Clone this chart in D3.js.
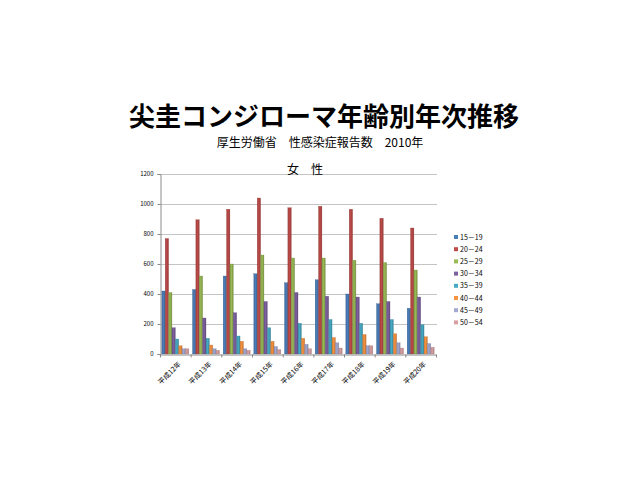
<!doctype html>
<html lang="ja">
  <head>
    <meta charset="utf-8">
    <script src="https://cdn.jsdelivr.net/npm/d3@7/dist/d3.min.js"></script>
    <style>
      body {margin:0; background:#fff}
      svg {display:block}
      text {font-family:"Noto Sans CJK JP", "Noto Sans", sans-serif}
      .grid line {stroke:#c4c4c4}
      .axis path, .axis line {stroke:#8a8a8a}
    </style>
    <title>尖圭コンジローマ年齢別年次推移</title>
  </head>
  <body>
    <script>
      // 報告数 (女性)
      const years = ["平成12年","平成13年","平成14年","平成15年","平成16年","平成17年","平成18年","平成19年","平成20年"];
      const ageGroups = ["15－19","20－24","25－29","30－34","35－39","40－44","45－49","50－54"];
      const age15_19 = [420, 430, 520, 535, 475, 495, 400, 335, 305];
      const age20_24 = [770, 895, 965, 1040, 975, 985, 965, 905, 840];
      const age25_29 = [410, 520, 600, 660, 640, 640, 625, 610, 560];
      const age30_34 = [175, 240, 275, 350, 410, 385, 380, 350, 380];
      const age35_39 = [100, 105, 120, 175, 205, 230, 205, 230, 195];
      const age40_44 = [55, 60, 85, 85, 105, 110, 130, 135, 115];
      const age45_49 = [35, 35, 35, 50, 65, 75, 55, 75, 70];
      const age50_54 = [35, 25, 25, 30, 35, 40, 55, 40, 45];
      const yTicks = [0, 200, 400, 600, 800, 1000, 1200];
      const colors = ["#4a7ebb","#be4b48","#98b954","#7d60a0","#46aac5","#f69240","#a3a9d2","#d9a0a3"];

      const series = [age15_19, age20_24, age25_29, age30_34, age35_39, age40_44, age45_49, age50_54];

      let w = 640, h = 480;
      let plot = {left:160, right:436, top:174, bottom:354};

      let svg = d3.select("body").append("svg")
        .attr("width", w)
        .attr("height", h);

      // bar gradients
      let defs = svg.append("defs");
      colors.forEach((c, i) => {
        let g = defs.append("linearGradient").attr("id", "grad" + i)
          .attr("x1", "0").attr("x2", "1").attr("y1", "0").attr("y2", "0");
        g.append("stop").attr("offset", "0%").attr("stop-color", d3.color(c).darker(0.5));
        g.append("stop").attr("offset", "45%").attr("stop-color", c);
        g.append("stop").attr("offset", "100%").attr("stop-color", d3.color(c).darker(0.7));
      });

      let x0 = d3.scaleBand()
        .domain(years)
        .range([plot.left, plot.right])
        .paddingInner(0.12)
        .paddingOuter(0.06);

      let x1 = d3.scaleBand()
        .domain(ageGroups)
        .range([0, x0.bandwidth()]);

      let y = d3.scaleLinear()
        .domain([0, 1200])
        .range([plot.bottom, plot.top]);

      // gridlines
      svg.append("g")
        .attr("class", "grid")
        .selectAll("line")
        .data(yTicks.slice(1))
        .enter()
        .append("line")
        .attr("x1", plot.left)
        .attr("x2", plot.right + 1)
        .attr("y1", d => y(d) + 0.5)
        .attr("y2", d => y(d) + 0.5);

      // bars
      let rows = [];
      years.forEach((yr, i) => {
        ageGroups.forEach((ag, j) => {
          rows.push({year:yr, group:ag, idx:j, value:series[j][i]});
        });
      });

      svg.append("g")
        .selectAll("rect")
        .data(rows)
        .enter()
        .append("rect")
        .attr("x", d => x0(d.year) + x1(d.group))
        .attr("width", x1.bandwidth())
        .attr("y", d => y(d.value))
        .attr("height", d => y(0) - y(d.value))
        .attr("fill", d => "url(#grad" + d.idx + ")")
        .attr("stroke", d => d3.color(colors[d.idx]).darker(0.6))
        .attr("stroke-width", 0.3);

      // y axis
      let yAxis = d3.axisLeft(y).tickValues(yTicks).tickFormat(d3.format("d")).tickSize(3).tickPadding(4);
      let ya = svg.append("g")
        .attr("class", "axis")
        .attr("transform", "translate(" + (plot.left + 0.5) + ",0)")
        .call(yAxis);
      ya.selectAll("text").attr("font-size", "6px").attr("fill", "#000");

      // x axis
      let xScaleTicks = d3.scaleBand().domain(years).range([plot.left, plot.right]);
      let xAxis = d3.axisBottom(xScaleTicks).tickSize(0).tickSizeOuter(0);
      let xa = svg.append("g")
        .attr("class", "axis")
        .attr("transform", "translate(0," + (plot.bottom + 0.5) + ")")
        .call(xAxis);
      xa.selectAll(".tick line").remove();
      xa.selectAll(".tick text")
        .attr("font-size", "7px")
        .attr("fill", "#000")
        .attr("text-anchor", "end")
        .attr("dy", "0")
        .attr("transform", "translate(4,8) rotate(-45)");
      // category boundary ticks
      xa.selectAll(".sep")
        .data(d3.range(years.length + 1))
        .enter()
        .append("line")
        .attr("class", "sep")
        .attr("x1", i => plot.left + i * xScaleTicks.step() + 0.5)
        .attr("x2", i => plot.left + i * xScaleTicks.step() + 0.5)
        .attr("y1", 0)
        .attr("y2", 3);

      // titles
      svg.append("text")
        .attr("x", 324)
        .attr("y", 126)
        .attr("text-anchor", "middle")
        .attr("font-size", "26px")
        .attr("font-weight", "bold")
        .text("尖圭コンジローマ年齢別年次推移");

      svg.append("text")
        .attr("x", 320)
        .attr("y", 147)
        .attr("text-anchor", "middle")
        .attr("font-size", "12px")
        .text("厚生労働省　性感染症報告数　2010年");

      svg.append("text")
        .attr("x", 305)
        .attr("y", 174)
        .attr("text-anchor", "middle")
        .attr("font-size", "12px")
        .text("女　性");

      // legend
      let legend = svg.append("g")
        .selectAll("g")
        .data(ageGroups)
        .enter()
        .append("g")
        .attr("transform", (d, i) => "translate(454," + (237 + i * 12.2) + ")");

      legend.append("rect")
        .attr("x", 0)
        .attr("y", -2)
        .attr("width", 4)
        .attr("height", 4)
        .attr("fill", (d, i) => colors[i]);

      legend.append("text")
        .attr("x", 6)
        .attr("y", 2.5)
        .attr("font-size", "7px")
        .text(d => d);
    </script>
  </body>
</html>
